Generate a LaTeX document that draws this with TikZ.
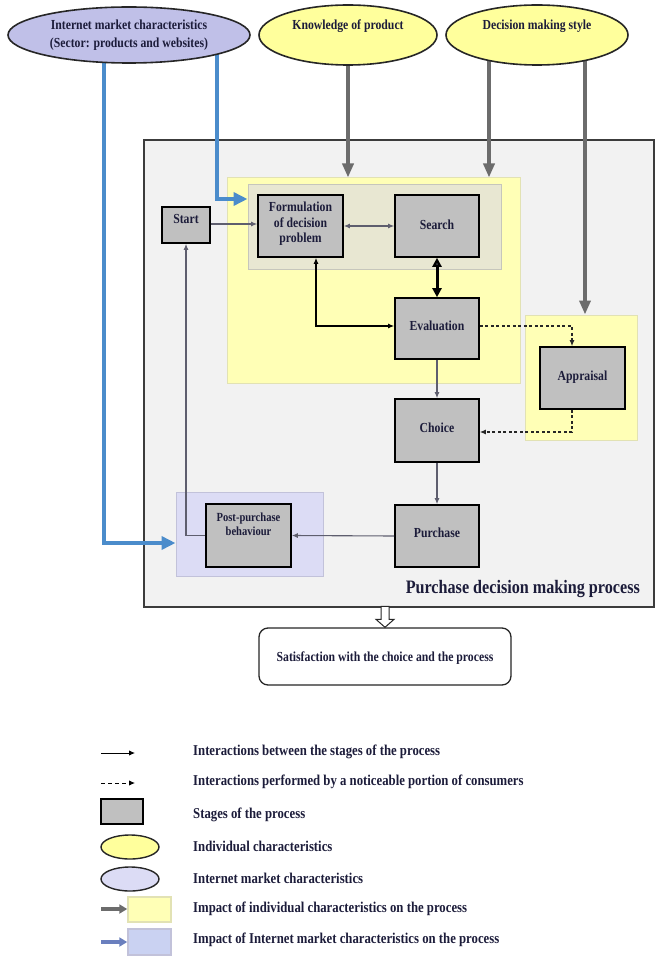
\documentclass[tikz,border=0pt]{standalone}
\usepackage{fontspec}
\setmainfont{Liberation Serif}[FakeStretch=0.85]
\usetikzlibrary{arrows.meta,shapes.geometric,shadows}

\definecolor{panel}{HTML}{F2F2F2}
\definecolor{panelline}{HTML}{3C3C3C}
\definecolor{indreg}{HTML}{FFFFB6}
\definecolor{indregline}{HTML}{E2E2B4}
\definecolor{indell}{HTML}{FFFF9C}
\definecolor{netell}{HTML}{C0C0E8}
\definecolor{netreg}{HTML}{DCDCF5}
\definecolor{netregline}{HTML}{C2C2DA}
\definecolor{netkey}{HTML}{CAD2F2}
\definecolor{innerreg}{HTML}{E8E7D2}
\definecolor{innerregline}{HTML}{C6C6BC}
\definecolor{stagefill}{HTML}{C0C0C0}
\definecolor{netblue}{HTML}{4B8CCB}
\definecolor{impgray}{HTML}{6C6C6C}
\definecolor{netgray}{HTML}{6A7FBE}
\definecolor{linkgray}{HTML}{5E5E6E}
\definecolor{txt}{HTML}{1C1C3A}

\pgfdeclarelayer{back}
\pgfdeclarelayer{mid}
\pgfsetlayers{back,mid,main}

\tikzset{
  stage/.style={rectangle, draw=black, line width=1.6pt, fill=stagefill, inner sep=0pt,
    drop shadow={shadow xshift=1.2pt, shadow yshift=-1.2pt, fill=black, opacity=0.35}},
  stagetxt/.style={font=\bfseries\fontsize{13.8}{15.5}\selectfont, text=txt, align=center, inner sep=0pt},
  region/.style={rectangle, inner sep=0pt, line width=1pt},
  indiv/.style={ellipse, draw=black!85, line width=1.6pt, fill=indell, inner sep=0pt},
  netchar/.style={ellipse, draw=black!85, line width=1.6pt, fill=netell, inner sep=0pt},
  elltxt/.style={font=\bfseries\fontsize{13.8}{18}\selectfont, text=txt, align=center, inner sep=0pt},
  link/.style={draw=linkgray, line width=1.1pt, -{Latex[length=6pt,width=5pt]}},
  dlink/.style={draw=black!85, line width=1.1pt, dash pattern=on 3pt off 2.5pt, -{Latex[length=6pt,width=5pt]}},
  impact/.style={draw=impgray, line width=4pt, -{Triangle[length=14pt,width=11pt]}},
  netimpact/.style={draw=netblue, line width=4.5pt, -{Triangle[length=14pt,width=13pt]}},
  legtxt/.style={font=\bfseries\fontsize{15}{17}\selectfont, text=txt, anchor=west, inner sep=0pt},
}

\begin{document}
\begin{tikzpicture}[x=1pt,y=-1pt]
\useasboundingbox (0,0) rectangle (659,957);

% ---- characteristics ellipses ----
\node[netchar, minimum width=242pt, minimum height=56pt] (inet) at (129,35) {};
\node[elltxt] (inetlbl) at (129,35) {Internet market characteristics\\(Sector: products and websites)};
\node[indiv, minimum width=178pt, minimum height=60pt] (know) at (348,35) {};
\node[elltxt] (knowlbl) at (348,26) {Knowledge of product};
\node[indiv, minimum width=182pt, minimum height=60pt] (dstyle) at (537,35) {};
\node[elltxt] (dstylelbl) at (537,26) {Decision making style};

% ---- process panel and impact regions ----
\begin{pgfonlayer}{back}
  \node[region, draw=panelline, line width=1.3pt, fill=panel, minimum width=510pt, minimum height=467pt] (panel) at (399,373.5) {};
  \node[region, draw=indregline, fill=indreg, minimum width=293pt, minimum height=205pt] (yreg) at (373.5,280.5) {};
  \node[region, draw=innerregline, fill=innerreg, minimum width=253pt, minimum height=85pt] (beige) at (374.5,227.5) {};
  \node[region, draw=indregline, fill=indreg, minimum width=112pt, minimum height=125pt] (apreg) at (581,377.5) {};
  \node[region, draw=netregline, fill=netreg, minimum width=147pt, minimum height=84pt] (lavreg) at (249.5,534) {};
\end{pgfonlayer}

\node[font=\bfseries\fontsize{19}{21}\selectfont, text=txt, anchor=east, inner sep=0pt] (ptitle) at (640,589) {Purchase decision making process};

% ---- stages ----
\node[stage, minimum width=48pt, minimum height=36pt] (start) at (186,225) {};
\node[stagetxt] (startlbl) at (186,219) {Start};
\node[stage, minimum width=85pt, minimum height=62pt] (form) at (300.5,226) {};
\node[stagetxt] (formlbl) at (300.5,224) {Formulation\\of decision\\problem};
\node[stage, minimum width=84pt, minimum height=62pt] (search) at (437,226) {};
\node[stagetxt] (searchlbl) at (437,225) {Search};
\node[stage, minimum width=84pt, minimum height=61pt] (eval) at (437,328.5) {};
\node[stagetxt] (evallbl) at (437,326) {Evaluation};
\node[stage, minimum width=85pt, minimum height=62pt] (appr) at (582.5,378) {};
\node[stagetxt] (apprlbl) at (582.5,377) {Appraisal};
\node[stage, minimum width=84pt, minimum height=63pt] (choice) at (437,430.5) {};
\node[stagetxt] (choicelbl) at (437,428) {Choice};
\node[stage, minimum width=84pt, minimum height=62pt] (purch) at (437,536) {};
\node[stagetxt] (purchlbl) at (437,533) {Purchase};
\node[stage, minimum width=85pt, minimum height=63pt] (post) at (248.5,535.5) {};
\node[stagetxt, font=\bfseries\fontsize{12.4}{14}\selectfont] (postlbl) at (248.5,524) {Post-purchase\\behaviour};

% ---- outcome ----
\node[draw=black!85, line width=1.3pt, rounded corners=9pt, fill=white, minimum width=252pt, minimum height=57pt, inner sep=0pt] (sat) at (385,656.5) {};
\node[stagetxt] (satlbl) at (385,658) {Satisfaction with the choice and the process};
\draw[draw=black!85, line width=1pt, fill=white] (sat.north) -- ++(-9,-8) -- ++(5,0) -- ++(0,-13) -- ++(8,0) -- ++(0,13) -- ++(5,0) -- cycle;

% ---- impact arrows ----
\begin{pgfonlayer}{mid}
  \draw[impact] (know.center) -- (know.center |- yreg.north);
  \draw[impact] (dstyle.center -| 489,0) -- (yreg.north -| 489,0);
  \draw[impact] (dstyle.center -| 585,0) -- (apreg.north -| 585,0);
  \draw[netimpact] (inet.center -| 217,0) |- (beige.west |- 0,199);
  \draw[netimpact] (inet.center -| 104,0) |- (lavreg.west |- 0,543);
\end{pgfonlayer}

% ---- interactions between stages ----
\draw[link] (start.east |- 0,224) -- (form.west |- 0,224);
\draw[link, {Latex[length=6pt,width=5pt]}-{Latex[length=6pt,width=5pt]}] (form.east) -- (search.west);
\draw[draw=black, line width=2pt, {Latex[length=6pt,width=5pt,fill=linkgray]}-{Latex[length=6pt,width=5pt]}] (form.south -| 316,0) |- (eval.west |- 0,326);
\draw[draw=black, line width=3pt, {Triangle[length=9pt,width=9pt,fill=linkgray]}-{Triangle[length=9pt,width=9pt]}] (search.south) -- (eval.north);
\draw[link] (eval.south) -- (choice.north);
\draw[link] (choice.south) -- (purch.north);
\draw[link] (purch.west) -- (post.east);
\draw[link] (post.west) -| (start.south);
\draw[dlink] (eval.east |- 0,326) -| (appr.north -| 572,0);
\draw[dlink] (appr.south -| 572,0) |- (choice.east |- 0,432);

% ---- legend ----
\coordinate (l1a) at (101,753); \coordinate (l1b) at (135,753);
\coordinate (l2a) at (101,783); \coordinate (l2b) at (135,783);
\draw[draw=black, line width=1pt, -{Latex[length=6pt,width=5.5pt]}] (l1a) -- (l1b);
\draw[draw=black, line width=1pt, dash pattern=on 4pt off 3pt, -{Latex[length=6pt,width=5.5pt]}] (l2a) -- (l2b);
\node[stage, minimum width=42pt, minimum height=25pt] (lstage) at (122,811.5) {};
\node[indiv, line width=1.4pt, minimum width=58pt, minimum height=24pt] (lind) at (130,847) {};
\node[netchar, line width=1.4pt, fill=netreg, minimum width=58pt, minimum height=24pt] (lnet) at (130,879) {};
\node[region, draw=indregline, line width=1.5pt, fill=indreg, minimum width=43pt, minimum height=25pt] (lindreg) at (149.5,909.5) {};
\node[region, draw=netregline, line width=1.5pt, fill=netkey, minimum width=43pt, minimum height=26pt] (lnetreg) at (149.5,942) {};
\coordinate (l6a) at (101,909); \coordinate (l7a) at (101,942);
\draw[draw=impgray, line width=3.2pt, -{Triangle[length=8pt,width=9pt]}] (l6a) -- (lindreg.west |- l6a);
\draw[draw=netgray, line width=3.2pt, -{Triangle[length=8pt,width=9pt]}] (l7a) -- (lnetreg.west |- l7a);

\node[legtxt] (t1) at (193,752) {Interactions between the stages of the process};
\node[legtxt] (t2) at (193,782) {Interactions performed by a noticeable portion of consumers};
\node[legtxt] (t3) at (193,815) {Stages of the process};
\node[legtxt] (t4) at (193,846) {Individual characteristics};
\node[legtxt] (t5) at (193,878) {Internet market characteristics};
\node[legtxt] (t6) at (193,909) {Impact of individual characteristics on the process};
\node[legtxt] (t7) at (193,940) {Impact of Internet market characteristics on the process};
\end{tikzpicture}
\end{document}
